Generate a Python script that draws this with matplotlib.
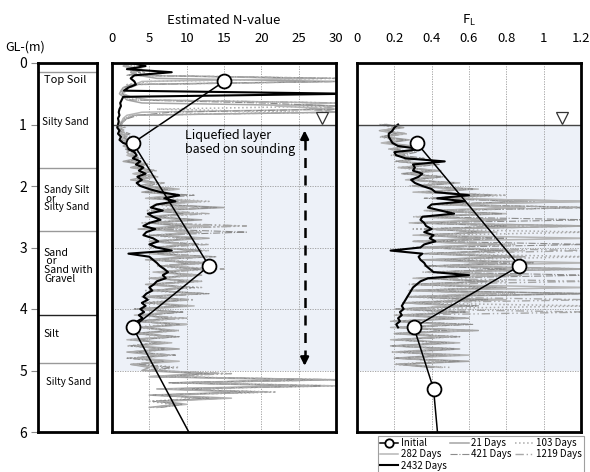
import numpy as np
import matplotlib
matplotlib.use('Agg')
import matplotlib.pyplot as plt

plt.rcParams['font.family'] = ['Noto Sans CJK JP', 'DejaVu Sans']

# soil column
layer_bounds = [0.15, 1.70, 2.73, 4.10, 4.88]
layer_bound_colors = ['#999999', '#999999', '#999999', '#222222', '#999999']
layer_names = ['Top Soil', 'Silty Sand', 'Sandy Silt\n or\nSilty Sand',
               'Sand\n or\nSand with\nGravel', 'Silt', 'Silty Sand']
layer_text_depth = [0.20, 0.88, 1.98, 3.00, 4.32, 5.10]
layer_text_x = [0.10, 0.06, 0.10, 0.10, 0.10, 0.14]
layer_text_size = [8, 7.2, 7, 7.5, 7.5, 7]

# initial survey (SPT)
init_depth_n = [0.3, 1.3, 3.3, 4.3, 5.3, 6.3]
init_n = [15.0, 2.8, 13.0, 2.8, 7.2, 11.6]
init_depth_fl = [1.3, 3.3, 4.3, 5.3, 6.3]
init_fl = [0.32, 0.87, 0.305, 0.41, 0.44]

# sounding profiles, 5 cm step, N from 0.00 m
n_21 = [2.0, 1.5, 3.0, 2.5, 3.5, 6.0, 30, 2.5, 1.5, 1.2,
        1.0, 1.5, 2.0, 4.0, 30, 28, 30, 3.0, 2.0, 1.5,
        1.2, 0.8, 1.5, 1.0, 2.0, 1.2, 2.5, 1.5, 2.8, 2.0,
        2.5, 3.5, 1.5, 4.0, 2.5, 5.0, 3.0, 4.5, 2.5, 5.5,
        3.5, 7.0, 4.0, 9.5, 5.0, 11, 6.0, 15, 5.5, 10,
        4.5, 12, 5.0, 9.0, 3.5, 11, 6.0, 13, 5.0, 10,
        6.0, 12, 5.5, 10, 4.5, 13, 7.0, 11, 6.0, 12,
        5.0, 11, 4.5, 9.5, 6.0, 12, 4.0, 10, 5.5, 9.0,
        3.5, 9.0, 4.0, 8.0, 3.0, 10, 4.5, 7.5, 3.0, 8.5,
        2.5, 7.0, 3.0, 9.0, 2.0, 6.0, 3.5, 8.0, 2.5, 5.0,
        4.0, 12, 5.0, 30, 8.0, 25, 6.0, 18, 5.0, 14,
        6.0, 9.0, 5.0]
n_103 = [1.5, 2.5, 2.0, 4.5, 3.0, 30, 5.0, 2.0, 1.8, 1.4,
         1.2, 2.0, 3.0, 30, 30, 6.0, 25, 2.5, 1.8, 1.6,
         1.0, 1.8, 1.2, 2.2, 1.4, 2.8, 1.8, 3.0, 2.0, 3.5,
         2.2, 4.0, 2.8, 5.0, 3.0, 6.0, 3.5, 5.5, 3.0, 6.5,
         4.0, 8.0, 5.0, 10, 6.5, 13, 5.5, 9.0, 4.5, 12,
         5.5, 10, 4.0, 17, 6.0, 12, 5.0, 9.5, 6.5, 11,
         5.0, 13, 6.5, 11, 5.5, 14, 6.0, 10, 7.0, 12,
         6.0, 10, 5.0, 12, 4.5, 11, 5.5, 9.0, 4.0, 10,
         4.0, 8.5, 3.5, 9.5, 4.5, 8.0, 2.5, 9.0, 3.5, 7.0,
         3.0, 6.5, 2.0, 8.0, 3.5, 7.0, 2.5, 6.0, 4.0, 9.0,
         5.0, 15, 7.0, 28, 10, 30, 8.0, 22, 6.0, 12,
         5.0, 8.0, 6.0]
n_282 = [2.5, 2.0, 4.0, 3.0, 2.5, 28, 4.0, 3.0, 2.0, 1.5,
         1.5, 2.5, 5.0, 30, 22, 30, 4.0, 2.0, 1.5, 1.3,
         0.8, 1.4, 1.0, 1.8, 1.3, 2.4, 1.6, 2.5, 2.2, 3.0,
         2.0, 3.2, 2.4, 4.5, 3.5, 5.2, 2.8, 6.0, 3.5, 5.0,
         4.5, 9.0, 5.5, 8.0, 4.5, 12, 7.0, 10, 6.0, 11,
         5.0, 9.5, 5.5, 13, 4.5, 10, 6.5, 12, 5.5, 9.0,
         6.5, 11, 5.0, 12, 6.0, 10, 7.5, 13, 5.5, 11,
         5.5, 12, 5.0, 10, 6.5, 11, 4.5, 9.5, 5.0, 11,
         4.5, 8.0, 3.0, 9.0, 4.0, 10, 3.5, 8.5, 4.5, 7.5,
         2.0, 8.0, 3.5, 6.5, 2.5, 7.5, 3.0, 9.0, 3.0, 6.0,
         6.0, 14, 5.0, 24, 9.0, 30, 7.0, 20, 6.5, 16,
         7.0, 10, 6.0]
n_421 = [1.8, 3.0, 2.2, 3.8, 2.0, 30, 30, 2.8, 1.6, 1.3,
         1.4, 1.8, 2.5, 20, 30, 30, 8.0, 3.5, 2.2, 1.4,
         1.1, 1.6, 0.9, 2.4, 1.5, 2.0, 2.2, 3.2, 1.8, 2.6,
         2.8, 3.8, 2.0, 4.2, 3.2, 5.8, 3.8, 5.0, 4.0, 6.0,
         5.0, 7.5, 4.5, 11, 5.5, 9.0, 6.5, 14, 6.0, 9.5,
         6.0, 11, 5.0, 10, 5.5, 18, 5.0, 11, 6.0, 12,
         5.5, 12, 6.0, 14, 5.0, 11, 6.5, 12, 7.5, 10,
         6.5, 10, 5.5, 11, 5.0, 13, 5.0, 10, 4.5, 9.5,
         3.0, 9.5, 4.5, 7.5, 3.5, 9.0, 4.0, 8.0, 3.0, 9.0,
         3.5, 6.0, 2.5, 7.0, 3.0, 8.5, 2.0, 7.0, 3.5, 8.0,
         5.5, 13, 6.5, 27, 7.5, 28, 9.0, 19, 5.5, 13,
         5.5, 9.5, 6.5]
n_1219 = [2.2, 1.8, 3.5, 2.8, 4.2, 30, 30, 3.5, 2.5, 1.8,
          1.6, 2.2, 4.5, 30, 30, 26, 30, 2.8, 1.7, 1.5,
          1.3, 1.0, 1.7, 1.2, 2.6, 1.7, 2.2, 2.6, 2.4, 3.2,
          2.6, 3.0, 3.0, 4.8, 2.8, 5.5, 4.2, 6.2, 3.2, 7.0,
          4.8, 8.5, 6.0, 9.0, 5.0, 10, 7.5, 12, 6.5, 13,
          5.5, 10, 6.0, 18, 5.0, 12, 7.0, 10, 5.0, 13,
          6.0, 11, 7.0, 13, 5.5, 12, 6.5, 15, 6.0, 11,
          5.0, 12, 6.0, 10, 5.5, 12, 5.0, 11, 4.5, 10,
          3.5, 8.0, 4.0, 10, 3.0, 8.5, 4.0, 9.0, 3.5, 8.0,
          2.5, 7.5, 3.0, 6.5, 2.5, 8.0, 3.5, 6.5, 2.5, 7.0,
          4.5, 16, 6.0, 30, 9.5, 27, 7.5, 21, 6.0, 15,
          6.0, 9.0, 5.5]
n_2432 = [2.5, 4.5, 2.0, 8.0, 3.0, 2.5, 3.0, 3.2, 2.2, 1.6,
          32, 1.5, 1.3, 1.1, 1.2, 1.0, 0.9, 1.0, 0.8, 0.9,
          0.8, 0.7, 1.0, 0.8, 1.2, 1.0, 1.5, 2.7, 2.2, 3.0,
          3.3, 2.8, 3.8, 3.2, 4.2, 3.6, 4.5, 3.4, 4.0, 3.3,
          3.8, 5.0, 6.5, 9.0, 7.0, 8.5, 6.0, 5.2, 6.8, 4.8,
          5.5, 6.5, 5.0, 4.2, 5.8, 4.6, 4.2, 5.5, 6.2, 5.0,
          6.0, 8.0, 2.2, 5.0, 5.5, 6.0, 6.4, 7.0, 7.5, 6.8,
          7.2, 6.0, 5.6, 5.0, 5.4, 4.6, 4.2, 4.8, 4.0, 4.5,
          3.8, 4.3, 3.6, 4.1, 3.4, 3.2, 3.5]

# F_L from 1.00 m, 5 cm step
fl_21 = [0.15, 0.25, 0.12, 0.22, 0.14, 0.28, 0.16, 0.30, 0.18, 0.26,
         0.20, 0.32, 0.22, 0.38, 0.25, 0.42, 0.24, 0.45, 0.28, 0.50,
         0.30, 0.55, 0.35, 0.70, 0.40, 1.25, 0.45, 0.85, 0.40, 0.75,
         0.35, 0.80, 0.30, 1.25, 0.40, 0.70, 0.35, 0.65, 0.30, 0.75,
         0.35, 0.80, 0.40, 0.90, 0.35, 0.75, 0.45, 1.25, 0.40, 0.85,
         0.35, 0.70, 0.30, 0.80, 0.28, 1.25, 0.30, 0.65, 0.25, 0.60,
         0.22, 0.55, 0.25, 0.60, 0.20, 0.50, 0.22, 0.65, 0.20, 0.45,
         0.22, 0.50, 0.18, 0.55, 0.25, 0.45, 0.20, 0.60, 0.22, 0.40]
fl_103 = [0.12, 0.20, 0.14, 0.24, 0.12, 0.20, 0.15, 0.27, 0.17, 0.30,
          0.18, 0.35, 0.20, 0.40, 0.22, 0.36, 0.26, 0.48, 0.30, 0.44,
          0.28, 0.60, 0.32, 0.80, 0.45, 0.95, 0.40, 1.25, 0.38, 0.70,
          0.30, 0.75, 0.35, 0.90, 0.30, 1.25, 0.40, 0.70, 0.30, 0.85,
          0.30, 0.90, 0.38, 1.25, 0.42, 0.80, 0.40, 0.95, 0.35, 0.70,
          0.32, 0.80, 0.28, 0.70, 0.30, 0.85, 0.26, 0.60, 0.24, 1.25,
          0.20, 0.50, 0.22, 0.55, 0.18, 0.60, 0.24, 0.50, 0.20, 0.55,
          0.20, 0.45, 0.22, 0.55, 0.18, 0.50, 0.24, 0.45, 0.20, 0.50]
fl_282 = [0.16, 0.22, 0.13, 0.26, 0.15, 0.24, 0.13, 0.25, 0.19, 0.28,
          0.22, 0.30, 0.24, 0.42, 0.22, 0.45, 0.28, 0.40, 0.26, 0.55,
          0.32, 0.65, 0.30, 0.75, 0.40, 1.25, 0.42, 0.90, 0.36, 0.80,
          0.32, 0.70, 0.28, 0.85, 0.38, 0.75, 0.30, 1.25, 0.34, 0.70,
          0.32, 0.85, 0.36, 0.75, 0.40, 1.25, 0.38, 0.90, 0.42, 0.80,
          0.30, 0.75, 0.34, 1.25, 0.28, 0.70, 0.30, 0.80, 0.26, 0.55,
          0.24, 0.60, 0.20, 0.50, 0.22, 0.55, 0.18, 0.60, 0.22, 0.50,
          0.18, 0.55, 0.24, 0.45, 0.20, 0.60, 0.22, 0.50, 0.25, 0.45]
fl_421 = [0.14, 0.23, 0.16, 0.21, 0.13, 0.26, 0.17, 0.24, 0.20, 0.32,
          0.24, 0.36, 0.21, 0.44, 0.27, 0.40, 0.25, 0.46, 0.29, 0.52,
          0.34, 0.62, 0.38, 0.72, 0.36, 0.88, 0.44, 1.25, 0.40, 0.78,
          0.36, 1.25, 0.32, 0.80, 0.36, 0.68, 0.34, 0.80, 0.38, 1.25,
          0.36, 0.78, 0.34, 0.85, 0.44, 0.95, 0.36, 0.80, 0.40, 1.25,
          0.34, 0.70, 0.30, 0.75, 0.32, 1.25, 0.28, 0.70, 0.28, 0.65,
          0.21, 0.58, 0.24, 0.52, 0.20, 0.62, 0.23, 0.48, 0.21, 0.55,
          0.21, 0.48, 0.19, 0.52, 0.23, 0.48, 0.21, 0.55, 0.23, 0.42]
fl_1219 = [0.13, 0.21, 0.15, 0.27, 0.14, 0.22, 0.16, 0.28, 0.18, 0.27,
           0.21, 0.34, 0.23, 0.39, 0.24, 0.44, 0.27, 0.42, 0.28, 0.48,
           0.31, 0.58, 0.34, 0.68, 0.42, 0.92, 0.43, 1.25, 0.37, 0.72,
           0.34, 0.78, 0.31, 1.25, 0.39, 0.72, 0.33, 0.68, 0.32, 0.80,
           0.34, 1.25, 0.39, 0.88, 0.38, 0.78, 0.43, 1.25, 0.38, 0.88,
           0.33, 1.25, 0.29, 0.78, 0.31, 0.75, 0.27, 1.25, 0.25, 0.58,
           0.23, 1.25, 0.21, 0.58, 0.19, 0.52, 0.23, 0.62, 0.21, 0.52,
           0.19, 0.52, 0.21, 0.48, 0.22, 0.55, 0.23, 0.48, 0.21, 0.46]
fl_2432 = [0.22, 0.20, 0.19, 0.17, 0.17, 0.18, 0.19, 0.22, 0.34, 0.20,
           0.21, 0.26, 0.47, 0.30, 0.31, 0.30, 0.35, 0.33, 0.29, 0.31,
           0.35, 0.40, 0.42, 0.60, 0.43, 0.58, 0.40, 0.38, 0.45, 0.52,
           0.35, 0.34, 0.36, 0.37, 0.40, 0.36, 0.41, 0.39, 0.42, 0.36,
           0.34, 0.18, 0.35, 0.33, 0.34, 0.36, 0.37, 0.39, 0.41, 0.60,
           0.38, 0.34, 0.32, 0.30, 0.29, 0.28, 0.27, 0.26, 0.25, 0.24,
           0.25, 0.23, 0.24, 0.22, 0.23, 0.21, 0.22]

series_labels = ['21 Days', '103 Days', '282 Days', '421 Days', '1219 Days']
series_n = [n_21, n_103, n_282, n_421, n_1219]
series_fl = [fl_21, fl_103, fl_282, fl_421, fl_1219]
series_style = [dict(color='#a4a4a4', ls='-', lw=1.1),
                dict(color='#ababab', ls=':', lw=1.1),
                dict(color='#b6b6b6', ls='-', lw=1.1),
                dict(color='#8c8c8c', ls='-.', lw=0.8),
                dict(color='#a8a8a8', ls=(0, (6, 2, 1, 2, 1, 2)), lw=1.0)]


def depth_of(vals, start):
    return start + 0.05 * np.arange(len(vals))


fig = plt.figure(figsize=(5.9, 4.72), dpi=100)
ax_s = fig.add_axes([38 / 590, 40 / 472, 59 / 590, 369 / 472])
ax_n = fig.add_axes([112 / 590, 40 / 472, 224 / 590, 369 / 472])
ax_f = fig.add_axes([357 / 590, 40 / 472, 224 / 590, 369 / 472])

# soil column
ax_s.set_xlim(0, 1)
ax_s.set_ylim(6, 0)
ax_s.set_xticks([])
ax_s.set_yticks(range(7))
ax_s.tick_params(axis='y', length=5, width=0.8, labelsize=10, pad=3, color='#888888')
for b, c in zip(layer_bounds, layer_bound_colors):
    ax_s.axhline(b, color=c, lw=1)
for name, d, x, fs in zip(layer_names, layer_text_depth, layer_text_x, layer_text_size):
    ax_s.text(x, d, name, va='top', ha='left', fontsize=fs, linespacing=0.85)
for sp in ax_s.spines.values():
    sp.set_linewidth(2)
fig.text(5 / 590, 1 - 47 / 472, 'GL-(m)', fontsize=9, va='center', ha='left')

for ax, xmax, ticks in [(ax_n, 30, list(range(0, 31, 5))),
                        (ax_f, 1.2, [0, 0.2, 0.4, 0.6, 0.8, 1.0, 1.2])]:
    ax.set_xlim(0, xmax)
    ax.set_ylim(6, 0)
    ax.axhspan(1, 5, color='#edf1f8', zorder=0, lw=0)
    ax.set_xticks(ticks)
    ax.set_yticks(range(7))
    ax.xaxis.tick_top()
    ax.tick_params(axis='x', length=0, pad=13, labelsize=9.5)
    ax.tick_params(axis='y', length=0, labelleft=False)
    ax.grid(True, ls=(0, (1.5, 1.5)), color='#9a9a9a', lw=0.6, zorder=1)
    ax.axhline(1, color='#444444', lw=1, zorder=5)
    for sp in ax.spines.values():
        sp.set_linewidth(2)
        sp.set_zorder(6)

ax_f.set_xticklabels(['0', '0.2', '0.4', '0.6', '0.8', '1', '1.2'])

# N-value panel
handles = {}
for lab, vals, st in zip(series_labels, series_n, series_style):
    h, = ax_n.plot(vals, depth_of(vals, 0.0), zorder=2, **st)
    handles[lab] = h
h, = ax_n.plot(n_2432, depth_of(n_2432, 0.0), color='black', lw=1.5, zorder=3)
handles['2432 Days'] = h
h, = ax_n.plot(init_n, init_depth_n, color='black', lw=1.1, marker='o', ms=10,
               markevery=[0, 1, 2, 3], mfc='white', mec='black', mew=1.3, zorder=4)
handles['Initial'] = h

# F_L panel
for vals, st in zip(series_fl, series_style):
    ax_f.plot(vals, depth_of(vals, 1.0), zorder=2, **st)
ax_f.plot(fl_2432, depth_of(fl_2432, 1.0), color='black', lw=1.5, zorder=3)
ax_f.plot(init_fl, init_depth_fl, color='black', lw=1.1, marker='o', ms=10,
          mfc='white', mec='black', mew=1.3, zorder=4)

# ground water level
ax_n.plot(28.1, 0.9, marker='v', ms=9, mfc='white', mec='#333333', mew=0.9, zorder=7)
ax_f.plot(1.10, 0.9, marker='v', ms=9, mfc='white', mec='#333333', mew=0.9, zorder=7)

# liquefied layer arrow
ax_n.plot([25.8, 25.8], [1.25, 4.8], color='black', lw=1.8, ls=(0, (4, 3)), zorder=6)
ax_n.annotate('', xy=(25.8, 1.05), xytext=(25.8, 1.3),
              arrowprops=dict(arrowstyle='-|>', color='black', lw=1.8, mutation_scale=12), zorder=6)
ax_n.annotate('', xy=(25.8, 4.97), xytext=(25.8, 4.72),
              arrowprops=dict(arrowstyle='-|>', color='black', lw=1.8, mutation_scale=12), zorder=6)
ax_n.text(9.8, 1.08, 'Liquefied layer\nbased on sounding', fontsize=9, va='top', ha='left',
          linespacing=1.1, zorder=6)

fig.text(224 / 590, 1 - 20 / 472, 'Estimated N-value', fontsize=9.5, ha='center', va='center')
fig.text(469 / 590, 1 - 20 / 472, r'F$_\mathregular{L}$', fontsize=9.5, ha='center', va='center')

order = ['Initial', '282 Days', '2432 Days', '21 Days', '421 Days', '103 Days', '1219 Days']
leg = fig.legend([handles[k] for k in order], order, loc='upper left',
                 bbox_to_anchor=(378 / 590, 1 - 436 / 472), ncol=3, fontsize=7.0,
                 frameon=True, fancybox=False, edgecolor='#888888', handlelength=1.9,
                 columnspacing=0.35, labelspacing=0.15, borderpad=0.2, handletextpad=0.25,
                 borderaxespad=0)
leg.get_frame().set_linewidth(0.8)
for line in leg.get_lines():
    if line.get_marker() == 'o':
        line.set_markersize(6)

fig.savefig('out.png', dpi=100)
